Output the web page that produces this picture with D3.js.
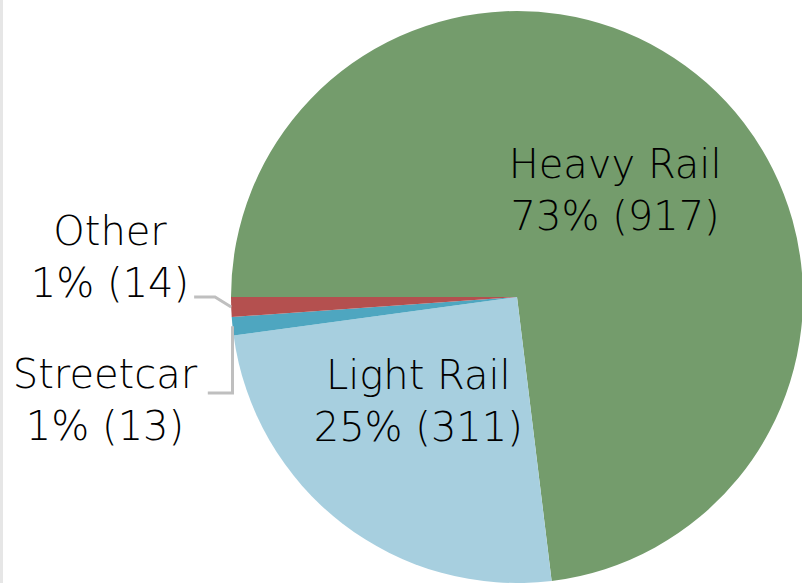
<!DOCTYPE html>
<html>
<head>
<meta charset="utf-8">
<script src="https://cdn.jsdelivr.net/npm/d3@7"></script>
<style>
  html, body { margin: 0; padding: 0; background: #fff; }
  svg { display: block; }
</style>
</head>
<body>
<div id="chart"></div>
<script>
// 数据
const categories = ["Heavy Rail", "Light Rail", "Streetcar", "Other"];
const counts = [917, 311, 13, 14];
const percents = ["73%", "25%", "1%", "1%"];
const colors = ["#749c6c", "#a7cfdf", "#4ea6c0", "#b4504f"];

const width = 802, height = 583;
const cx = 517, cy = 297, radius = 286;

const svg = d3.select("#chart").append("svg")
  .attr("width", width)
  .attr("height", height);

// 左边的浅灰条
svg.append("rect")
  .attr("x", 0).attr("y", 0)
  .attr("width", 3).attr("height", height)
  .style("fill", "#e6e6e6");

const data = categories.map((c, i) => ({ name: c, value: counts[i], pct: percents[i], color: colors[i] }));

const pie = d3.pie()
  .value(d => d.value)
  .sort(null)
  .startAngle(-Math.PI / 2)
  .endAngle(Math.PI * 1.5);

const arcs = pie(data);
const arc = d3.arc().innerRadius(0).outerRadius(radius);

const g = svg.append("g").attr("transform", `translate(${cx},${cy})`);

g.selectAll(".slice")
  .data(arcs)
  .enter()
  .append("path")
  .attr("class", "slice")
  .attr("d", arc)
  .style("fill", d => d.data.color);

// 标签位置: inside -> 半径 + 偏移(第一行基线); outside -> 左侧
const labelCfg = {
  "Heavy Rail": { inside: true, r: 145, dx: 2, dy: -10 },
  "Light Rail": { inside: true, r: 160, dx: -1, dy: -35 },
  "Streetcar": { inside: false, x: -412, y: 91, lineY: 96, gap: 10 },
  "Other": { inside: false, x: -407, y: -52, lineY: 0, gap: 5, knee: -302 }
};

const pointAt = (a, r) => [r * Math.sin(a), -r * Math.cos(a)];
const lineH = 52;

arcs.forEach(d => {
  const cfg = labelCfg[d.data.name];
  const mid = (d.startAngle + d.endAngle) / 2;
  let lx, ly;
  if (cfg.inside) {
    const p = pointAt(mid, cfg.r);
    lx = p[0] + cfg.dx;
    ly = p[1] + cfg.dy;
  } else {
    lx = cfg.x;
    ly = cfg.y;
  }
  const t = g.append("text")
    .attr("text-anchor", "middle")
    .style("font-family", "'Century Gothic', 'DejaVu Sans', sans-serif")
    .style("font-weight", 200)
    .style("font-size", "40px")
    .style("fill", "#000");
  t.append("tspan").attr("x", lx).attr("y", ly).text(d.data.name);
  t.append("tspan").attr("x", lx).attr("y", ly + lineH).text(`${d.data.pct} (${d.data.value})`);

  if (!cfg.inside) {
    const end = pointAt(mid, radius);
    const bb = t.node().getBBox();
    const x0 = bb.x + bb.width + cfg.gap;
    const knee = cfg.knee !== undefined ? cfg.knee : end[0];
    const pts = [[x0, cfg.lineY], [knee, cfg.lineY], end];
    g.append("path")
      .attr("d", d3.line()(pts))
      .style("fill", "none")
      .style("stroke", "#bfbfbf")
      .style("stroke-width", 3);
  }
});
</script>
</body>
</html>
